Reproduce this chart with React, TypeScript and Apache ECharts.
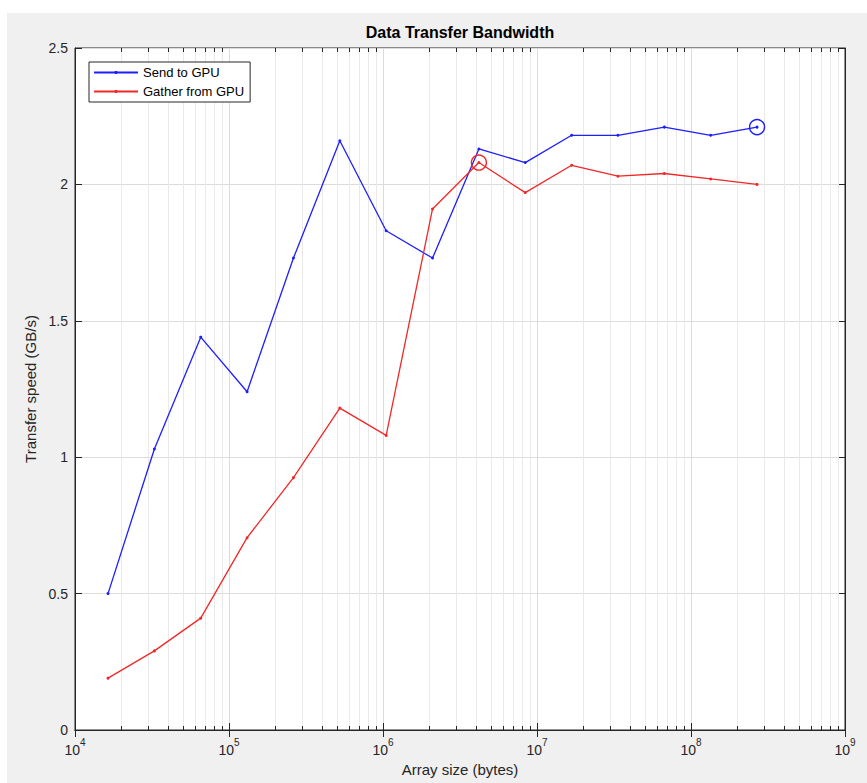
import React, { useEffect, useRef } from "react";
import * as echarts from "echarts";

const sizes = [16384, 32768, 65536, 131072, 262144, 524288, 1048576, 2097152, 4194304, 8388608, 16777216, 33554432, 67108864, 134217728, 268435456];
const sendToGPU = [0.5, 1.03, 1.44, 1.24, 1.73, 2.16, 1.83, 1.73, 2.13, 2.08, 2.18, 2.18, 2.21, 2.18, 2.21];
const gatherFromGPU = [0.19, 0.29, 0.41, 0.705, 0.925, 1.18, 1.08, 1.91, 2.08, 1.97, 2.07, 2.03, 2.04, 2.02, 2.0];
const decades = [1e4, 1e5, 1e6, 1e7, 1e8];
const minorMultipliers = [2, 3, 4, 5, 6, 7, 8, 9];
const yTicks = [0, 0.5, 1, 1.5, 2, 2.5];

const xMin = 1e4;
const xMax = 1e9;
const yMin = yTicks[0];
const yMax = yTicks[yTicks.length - 1];
const sendPeakIndex = 14;
const gatherPeakIndex = 8;

const BLUE = "#1e1eff";
const RED = "#f02828";
const AX = "#262626";

export default function App() {
  const ref = useRef<HTMLDivElement>(null);
  useEffect(() => {
    if (!ref.current) return;
    const chart = echarts.init(ref.current, undefined, { renderer: "svg" });
    const minorTicks: number[] = [];
    decades.forEach((d) => minorMultipliers.forEach((m) => minorTicks.push(d * m)));

    const font = "Arial, 'Liberation Sans', Helvetica, sans-serif";

    chart.setOption({
      animation: false,
      backgroundColor: "#ffffff",
      textStyle: { fontFamily: font },
      graphic: [
        {
          type: "rect",
          z: -10,
          shape: { x: 7, y: 13, width: 860, height: 770 },
          style: { fill: "#f0f0f0" },
          silent: true,
        },
      ],
      title: {
        text: "Data Transfer Bandwidth",
        left: 460,
        top: 24,
        padding: 0,
        textAlign: "center",
        textStyle: { fontSize: 16, fontWeight: "bold", color: "#000", fontFamily: font },
      },
      legend: {
        data: ["Send to GPU", "Gather from GPU"],
        orient: "vertical",
        left: 89,
        top: 62,
        itemWidth: 44,
        itemHeight: 4,
        itemGap: 4,
        padding: [3, 6, 3, 4],
        backgroundColor: "#ffffff",
        borderColor: AX,
        borderWidth: 1,
        borderRadius: 0,
        textStyle: { fontSize: 13, color: "#000", lineHeight: 15, fontFamily: font },
      },
      grid: {
        left: 75,
        right: 22,
        top: 48,
        bottom: 53,
        show: true,
        backgroundColor: "#ffffff",
        borderColor: AX,
        borderWidth: 1,
      },
      xAxis: [
        {
          type: "log",
          logBase: 10,
          min: xMin,
          max: xMax,
          splitNumber: 5,
          name: "Array size (bytes)",
          nameLocation: "middle",
          nameGap: 29,
          nameTextStyle: { fontSize: 15, color: AX, fontFamily: font },
          axisLine: { show: true, lineStyle: { color: AX, width: 1 } },
          axisTick: { show: true, inside: true, length: 7, lineStyle: { color: AX } },
          axisLabel: {
            color: AX,
            margin: 7,
            showMinLabel: true,
            showMaxLabel: true,
            formatter: (v: number) => "{b|10}{s|" + Math.round(Math.log10(v)) + "}",
            rich: {
              b: { fontSize: 14, color: AX, lineHeight: 20, verticalAlign: "bottom", fontFamily: font },
              s: { fontSize: 10, color: AX, lineHeight: 12, verticalAlign: "top", fontFamily: font },
            },
          },
          splitLine: { show: true, lineStyle: { color: "#dcdcdc", width: 1 } },
        },
        {
          type: "log",
          logBase: 10,
          min: xMin,
          max: xMax,
          splitNumber: 5,
          position: "top",
          axisLine: { show: true, lineStyle: { color: AX, width: 1 } },
          axisTick: { show: true, inside: true, length: 7, lineStyle: { color: AX } },
          axisLabel: { show: false },
          splitLine: { show: false },
        },
      ],
      yAxis: [
        {
          type: "value",
          min: yMin,
          max: yMax,
          interval: 0.5,
          name: "Transfer speed (GB/s)",
          nameLocation: "middle",
          nameGap: 29,
          nameTextStyle: { fontSize: 15, color: AX, fontFamily: font },
          axisLine: { show: true, lineStyle: { color: AX, width: 1 } },
          axisTick: { show: true, inside: true, length: 7, lineStyle: { color: AX } },
          axisLabel: { color: AX, fontSize: 14, margin: 7, fontFamily: font },
          splitLine: { show: true, lineStyle: { color: "#dcdcdc", width: 1 } },
        },
        {
          type: "value",
          min: yMin,
          max: yMax,
          interval: 0.5,
          position: "right",
          axisLine: { show: true, lineStyle: { color: AX, width: 1 } },
          axisTick: { show: true, inside: true, length: 7, lineStyle: { color: AX } },
          axisLabel: { show: false },
          splitLine: { show: false },
        },
      ],
      series: [
        {
          type: "custom",
          silent: true,
          z: 1,
          xAxisIndex: 0,
          yAxisIndex: 0,
          data: minorTicks.map((v) => [v, yMin]),
          encode: { x: 0, y: 1 },
          renderItem: (_params: any, api: any) => {
            const v = api.value(0);
            const b = api.coord([v, yMin]);
            const t = api.coord([v, yMax]);
            const x = Math.round(b[0]) + 0.5;
            return {
              type: "group",
              children: [
                { type: "line", shape: { x1: x, y1: b[1], x2: x, y2: t[1] }, style: { stroke: "#e9e9e9", lineWidth: 1 } },
                { type: "line", shape: { x1: x, y1: b[1], x2: x, y2: b[1] - 4 }, style: { stroke: AX, lineWidth: 1 } },
                { type: "line", shape: { x1: x, y1: t[1], x2: x, y2: t[1] + 4 }, style: { stroke: AX, lineWidth: 1 } },
              ],
            };
          },
        },
        {
          name: "Send to GPU",
          type: "line",
          z: 3,
          data: sizes.map((s, i) => [s, sendToGPU[i]]),
          symbol: "circle",
          symbolSize: 3,
          showSymbol: true,
          lineStyle: { color: BLUE, width: 1.3 },
          itemStyle: { color: BLUE },
          markPoint: {
            silent: true,
            label: { show: false },
            data: [
              {
                coord: [sizes[sendPeakIndex], sendToGPU[sendPeakIndex]],
                symbol: "circle",
                symbolSize: 15,
                itemStyle: { color: "rgba(0,0,0,0)", borderColor: BLUE, borderWidth: 1.4 },
              },
            ],
          },
        },
        {
          name: "Gather from GPU",
          type: "line",
          z: 3,
          data: sizes.map((s, i) => [s, gatherFromGPU[i]]),
          symbol: "circle",
          symbolSize: 3,
          showSymbol: true,
          lineStyle: { color: RED, width: 1.3 },
          itemStyle: { color: RED },
          markPoint: {
            silent: true,
            label: { show: false },
            data: [
              {
                coord: [sizes[gatherPeakIndex], gatherFromGPU[gatherPeakIndex]],
                symbol: "circle",
                symbolSize: 15,
                itemStyle: { color: "rgba(0,0,0,0)", borderColor: RED, borderWidth: 1.4 },
              },
            ],
          },
        },
      ],
    });
    return () => chart.dispose();
  }, []);
  return (
    <div
      ref={ref}
      style={{ position: "fixed", left: 0, top: 0, width: 867, height: 783 }}
    />
  );
}
